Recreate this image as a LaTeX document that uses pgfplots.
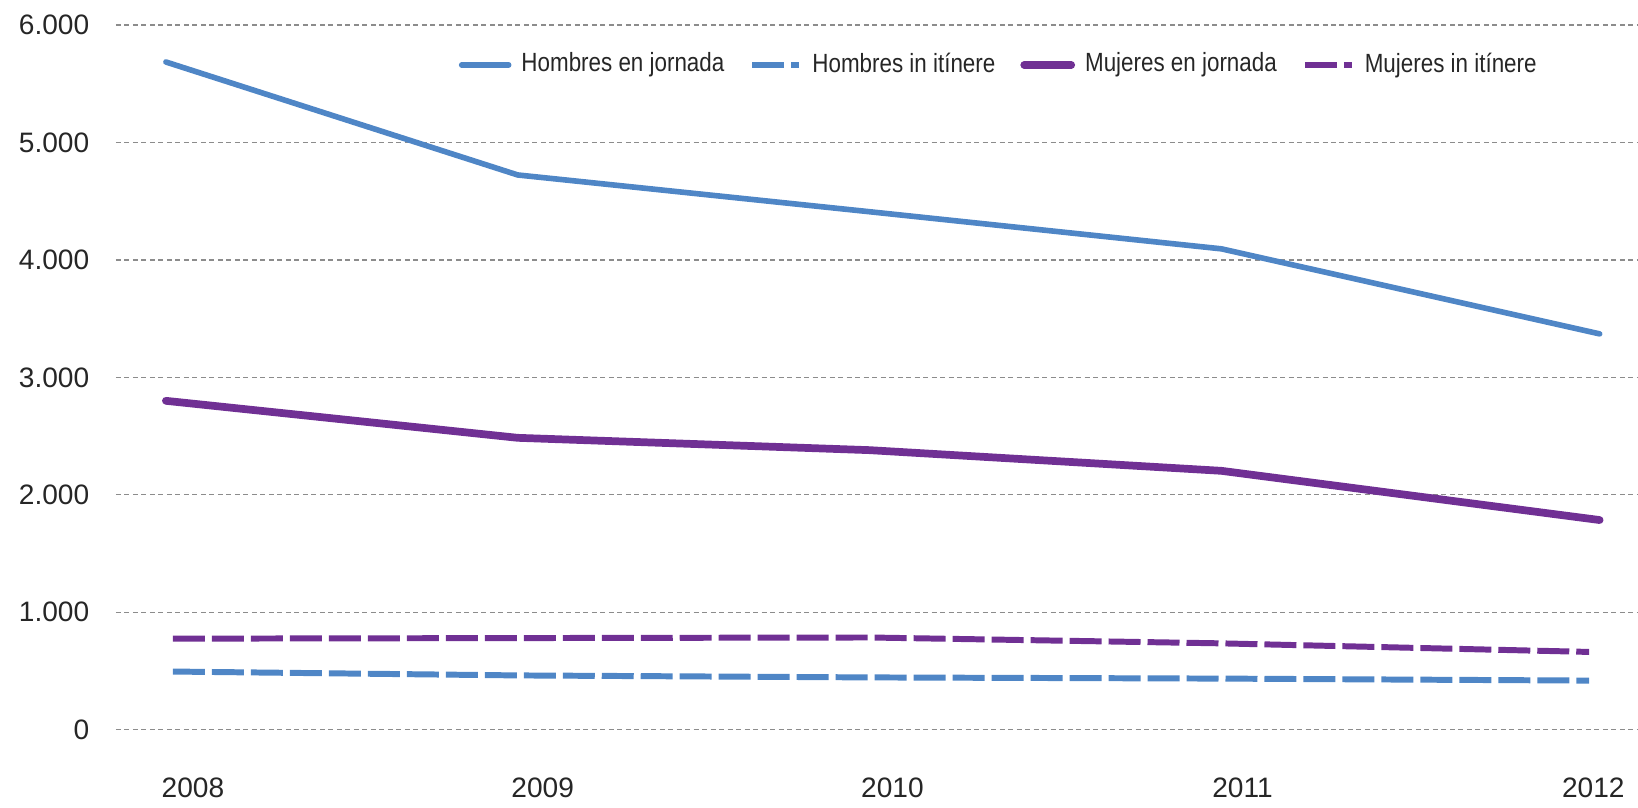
\documentclass[border=0pt]{standalone}
\usepackage{pgfplots}
\pgfplotsset{compat=1.18}
\usepackage{fontspec}
\setmainfont{Liberation Sans}
\newfontfamily\narrowfont[FakeStretch=0.85]{Liberation Sans}

\definecolor{hblue}{RGB}{79,134,198}
\definecolor{mpurple}{RGB}{112,48,148}
\definecolor{gridgray}{RGB}{140,140,140}

\begin{document}
\begin{tikzpicture}
\begin{axis}[
  scale only axis,
  width=15.22cm, height=7.05cm,
  xmin=-0.142, xmax=4.182,
  ymin=0, ymax=6000,
  clip=false,
  xtick={0.077,1.071,2.065,3.06,4.057},
  xticklabels={2008,2009,2010,2011,2012},
  ytick={0,1000,...,6000},
  ymajorgrids,
  major grid style={gridgray, line width=0.4pt, dash pattern=on 0.05cm off 0.035cm},
  axis line style={draw=none},
  tick style={draw=none},
  scaled y ticks=false,
  /pgf/number format/1000 sep={.},
  /pgf/number format/assume math mode=true,
  ticklabel style={font=\fontsize{8}{9.5}\selectfont, text=black!85},
  yticklabel style={anchor=east, inner sep=0pt, xshift=-0.26cm},
  xticklabel style={anchor=north, inner sep=0pt, yshift=-0.48cm},
  legend columns=4,
  legend cell align=left,
  legend style={draw=none, fill=none, inner sep=0pt, outer sep=0pt,
    at={(axis description cs:0.2254,0.9433)}, anchor=west,
    font=\narrowfont\fontsize{7.5}{9}\selectfont, text=black!85,
    column sep=0.03cm,
    /tikz/every even column/.append style={column sep=0.18cm}},
  legend image code/.code={\draw[#1] (0cm,0cm) -- (0.47cm,0cm);},
]
\coordinate (sw) at (rel axis cs:0,0);

% the 2012 point sits a little further right in the original
\addplot[hblue, line width=1.6pt, line cap=round, line join=round]
  coordinates {(0,5685) (1,4723) (2,4410) (3,4094) (4.075,3370)};
\addlegendentry{Hombres en jornada}

\addplot[hblue, line width=1.7pt, dash pattern=on 0.32cm off 0.07cm]
  coordinates {(0.02,495) (1,462) (2,445) (3,435) (4.045,418)};
\addlegendentry{Hombres in itínere}

\addplot[mpurple, line width=2.2pt, line cap=round, line join=round]
  coordinates {(0,2800) (1,2485) (2,2380) (3,2204) (4.075,1785)};
\addlegendentry{Mujeres en jornada}

\addplot[mpurple, line width=1.7pt, dash pattern=on 0.32cm off 0.07cm]
  coordinates {(0.02,775) (1,780) (2,785) (3,735) (4.045,662)};
\addlegendentry{Mujeres in itínere}
\end{axis}
\path (sw) ++(-1.16cm,-0.78cm) rectangle ++(16.38cm,8.08cm);
\end{tikzpicture}
\end{document}
